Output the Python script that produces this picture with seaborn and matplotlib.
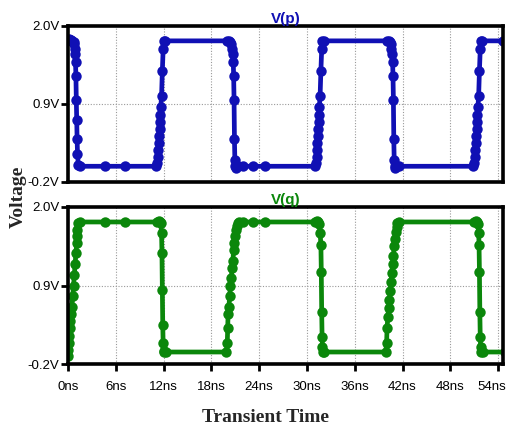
import matplotlib
matplotlib.use("Agg")
import matplotlib.pyplot as plt
import matplotlib.transforms as mtransforms
import seaborn as sns
import pandas as pd

# ---- data ----
t_p = [0.0, 0.1, 0.25, 0.4, 0.55, 0.7, 0.8, 0.85, 0.9, 0.95, 1.0, 1.05, 1.1, 1.15, 1.2, 1.3, 1.5, 4.6, 7.1,
       11.1, 11.2, 11.3, 11.35, 11.4, 11.45, 11.5, 11.55, 11.6, 11.65, 11.75, 11.85, 11.95, 12.05, 12.2,
       20.0, 20.2, 20.35, 20.5, 20.6, 20.7, 20.75, 20.8, 20.85, 20.9, 20.95, 21.0, 21.1, 21.3, 22.0, 23.2, 24.7,
       31.0, 31.1, 31.2, 31.25, 31.3, 31.35, 31.4, 31.45, 31.5, 31.55, 31.65, 31.75, 31.85, 31.95, 32.1,
       40.1, 40.25, 40.4, 40.5, 40.6, 40.7, 40.75, 40.8, 40.85, 40.9, 40.95, 41.0, 41.1, 41.3, 41.6,
       50.9, 51.0, 51.1, 51.15, 51.2, 51.25, 51.3, 51.35, 51.4, 51.45, 51.55, 51.65, 51.75, 51.85, 52.0, 54.6]
v_p = [1.80, 1.81, 1.80, 1.80, 1.79, 1.78, 1.74, 1.68, 1.60, 1.49, 1.29, 0.96, 0.68, 0.40, 0.20, 0.04, 0.02, 0.02, 0.02,
       0.02, 0.06, 0.15, 0.25, 0.35, 0.45, 0.55, 0.65, 0.75, 0.85, 1.01, 1.37, 1.67, 1.79, 1.79,
       1.79, 1.79, 1.78, 1.74, 1.68, 1.60, 1.49, 1.29, 0.96, 0.40, 0.11, 0.03, 0.00, 0.02, 0.02, 0.02, 0.02,
       0.02, 0.06, 0.15, 0.25, 0.35, 0.45, 0.55, 0.65, 0.75, 0.85, 1.01, 1.37, 1.67, 1.79, 1.79,
       1.79, 1.79, 1.78, 1.74, 1.68, 1.60, 1.49, 1.29, 0.96, 0.40, 0.11, 0.03, 0.00, 0.02, 0.02,
       0.02, 0.06, 0.15, 0.25, 0.35, 0.45, 0.55, 0.65, 0.75, 0.85, 1.01, 1.37, 1.67, 1.79, 1.79, 1.79]

t_q = [0.0, 0.05, 0.1, 0.15, 0.2, 0.3, 0.4, 0.5, 0.6, 0.7, 0.8, 0.9, 1.0, 1.1, 1.15, 1.2, 1.3, 1.5, 4.6, 7.1,
       11.2, 11.4, 11.55, 11.65, 11.75, 11.8, 11.85, 11.9, 11.95, 12.0, 12.1, 12.3,
       19.9, 20.0, 20.05, 20.1, 20.2, 20.3, 20.4, 20.5, 20.6, 20.7, 20.8, 20.9, 21.0, 21.1, 21.2, 21.3, 21.5, 22.0, 23.2, 24.7,
       31.0, 31.2, 31.4, 31.55, 31.65, 31.75, 31.8, 31.85, 31.9, 31.95, 32.05, 32.2,
       39.9, 40.0, 40.05, 40.15, 40.25, 40.35, 40.45, 40.55, 40.65, 40.75, 40.85, 40.95, 41.05, 41.15, 41.25, 41.35, 41.5,
       51.0, 51.2, 51.35, 51.45, 51.55, 51.6, 51.65, 51.7, 51.75, 51.8, 51.9, 52.1, 54.8]
v_q = [-0.08, 0.00, 0.10, 0.20, 0.30, 0.40, 0.50, 0.60, 0.75, 0.90, 1.05, 1.20, 1.35, 1.50, 1.60, 1.68, 1.78, 1.79, 1.79, 1.79,
       1.79, 1.80, 1.79, 1.77, 1.63, 1.35, 0.84, 0.35, 0.09, -0.01, -0.03, -0.03,
       -0.03, 0.10, 0.30, 0.50, 0.60, 0.75, 0.90, 1.00, 1.15, 1.25, 1.40, 1.50, 1.60, 1.68, 1.74, 1.78, 1.79, 1.79, 1.79, 1.79,
       1.79, 1.80, 1.79, 1.76, 1.64, 1.47, 1.09, 0.53, 0.18, 0.04, -0.03, -0.03,
       -0.03, 0.10, 0.30, 0.46, 0.58, 0.70, 0.82, 0.95, 1.08, 1.20, 1.32, 1.45, 1.55, 1.65, 1.72, 1.78, 1.79,
       1.79, 1.80, 1.79, 1.76, 1.64, 1.47, 1.09, 0.53, 0.18, 0.04, -0.03, -0.03, -0.03]

x_ticks = [0, 6, 12, 18, 24, 30, 36, 42, 48, 54]
x_labels = [f"{v}ns" for v in x_ticks]
y_ticks = [-0.2, 0.9, 2.0]
y_labels = ["-0.2V", "0.9V", "2.0V"]

BLUE = "#1010b4"
GREEN = "#0b870b"

sns.set_theme(style="white")
plt.rcParams['font.family'] = ['Liberation Sans', 'DejaVu Sans']

fig = plt.figure(figsize=(5.07, 4.33), dpi=100)
ax1 = fig.add_axes([0.134, 0.580, 0.858, 0.360])
ax2 = fig.add_axes([0.134, 0.159, 0.858, 0.363])

df_p = pd.DataFrame({"t": t_p, "v": v_p})
df_q = pd.DataFrame({"t": t_q, "v": v_q})

tick_font = dict(family=["Liberation Sans", "DejaVu Sans"], size=9.5)

for ax, df, col, title in [(ax1, df_p, BLUE, "V(p)"), (ax2, df_q, GREEN, "V(q)")]:
    sns.lineplot(data=df, x="t", y="v", ax=ax, color=col, lw=3.4, marker="o", markersize=7.5,
                 markeredgewidth=0, sort=False, estimator=None)
    ax.set_xlim(0, 54.6)
    ax.set_ylim(-0.2, 2.0)
    ax.set_xticks(x_ticks)
    ax.set_yticks(y_ticks)
    ax.set_yticklabels(y_labels, fontdict=tick_font)
    ax.grid(True, color="#9a9a9a", linestyle=(0, (1, 1.5)), linewidth=0.8)
    for s in ax.spines.values():
        s.set_color("black")
        s.set_linewidth(2.6)
        s.set_visible(True)
    ax.tick_params(axis="y", left=True, length=5, width=2, pad=1, color="black", labelcolor="black")
    ax.set_xlabel("")
    ax.set_ylabel("")
    ax.set_title(title, color=col, fontdict=dict(family=["Liberation Sans", "DejaVu Sans"],
                 size=11, weight="bold"), pad=2)

ax1.tick_params(axis="x", bottom=False, labelbottom=False)
ax2.set_xticklabels(x_labels, fontdict=tick_font)
ax2.tick_params(axis="x", bottom=True, length=5, width=2, pad=7, color="black", labelcolor="black")
# keep the last tick label inside the figure
last = ax2.get_xticklabels()[-1]
last.set_transform(last.get_transform() + mtransforms.ScaledTranslation(-6 / 100, 0, fig.dpi_scale_trans))

fig.text(0.036, 0.545, "Voltage", rotation=90, ha="center", va="center",
         fontsize=14, fontweight="bold", family=["Liberation Serif", "DejaVu Serif"])
fig.text(0.523, 0.035, "Transient Time", ha="center", va="center",
         fontsize=14, fontweight="bold", family=["Liberation Serif", "DejaVu Serif"])

fig.savefig("out.png", dpi=100)
